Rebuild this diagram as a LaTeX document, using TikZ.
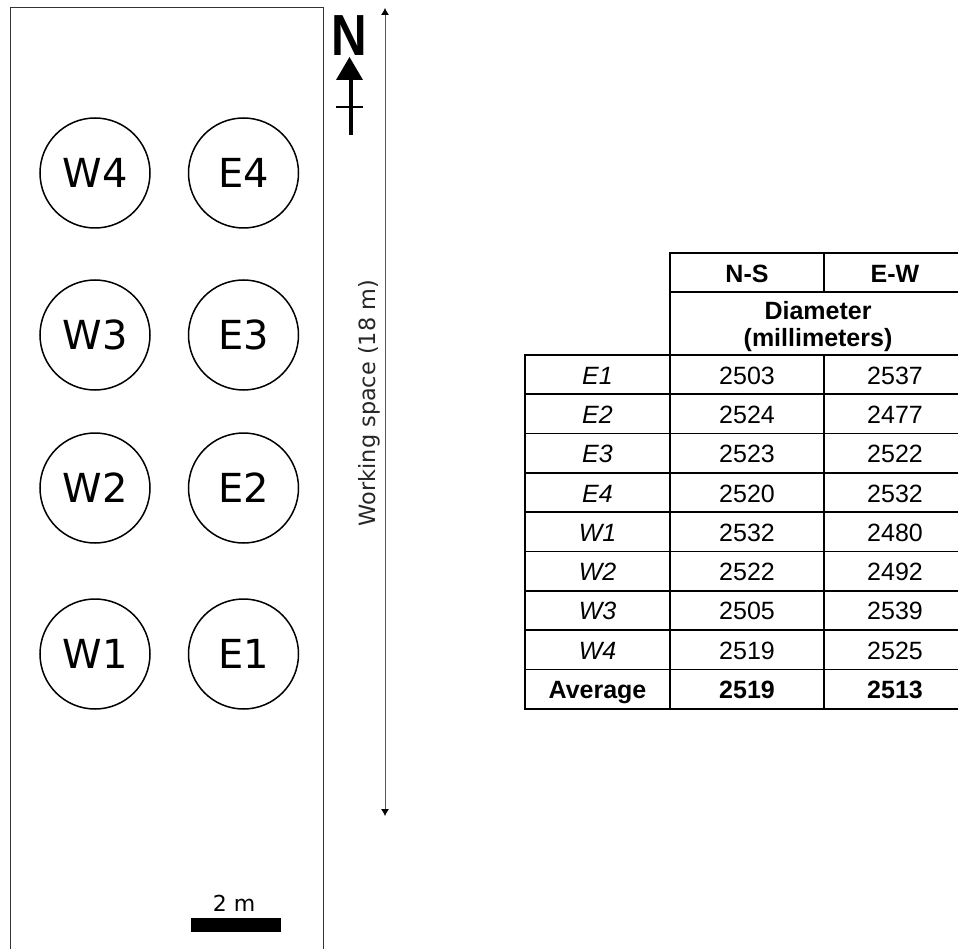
\documentclass[tikz,border=0pt]{standalone}
\usepackage{fontspec}
\setmainfont{DejaVu Sans}
\newfontfamily\tablefont{Liberation Sans}
\usetikzlibrary{arrows.meta,positioning}
\newcommand{\cellstrut}{\rule[-1pt]{0pt}{21pt}}

\begin{document}
\begin{tikzpicture}[x=1pt,y=1pt,>={Latex[length=7pt,width=8pt,black]}]
    \tikzset{tank/.style={draw, circle, line width=1.5pt, minimum size=110pt, inner sep=0pt, font=\fontsize{40}{44}\selectfont},
    cell/.style={draw, rectangle, line width=1.7pt, align=center, inner sep=0pt, outer sep=0pt, minimum height=39.3pt, execute at begin node=\cellstrut, font=\tablefont\fontsize{25}{27.5}\selectfont},
    head/.style={cell, font=\tablefont\bfseries\fontsize{25}{27.5}\selectfont},
    }
    \useasboundingbox (0,0) rectangle (958,-949);
    \draw[line width=1pt, black!80] (10,-949) |- (323,-8) -- (323,-949);

    \node [tank] at (95,-173)  (w4) {W4};
    \node [tank, right=37pt of w4] (e4) {E4};
    \node [tank] at (95,-335)  (w3) {W3};
    \node [tank, right=37pt of w3] (e3) {E3};
    \node [tank] at (95,-488)  (w2) {W2};
    \node [tank, right=37pt of w2] (e2) {E2};
    \node [tank] at (95,-654)  (w1) {W1};
    \node [tank, right=37pt of w1] (e1) {E1};

    % north arrow
    \node [font=\tablefont\bfseries\fontsize{58}{60}\selectfont, inner sep=0pt, xscale=.85, transform shape] at (349,-36) (north) {N};
    \coordinate (tip) at (349.5,-57);
    \coordinate (tail) at (350.5,-135);
    \draw[line width=4pt] (tail) -- ++(0,56);
    \fill (tip) -- (363,-80) -- (336,-80) -- cycle;
    \draw[line width=1.5pt] (336,-107) -- (363,-107);

    % working space
    \coordinate (spacetop) at (385,-8);
    \coordinate (spacebot) at (385,-816);
    \draw[<->, line width=0.8pt, black!65] (spacetop) -- (spacebot);
    \node [rotate=90, font=\fontsize{22.4}{24}\selectfont, black!85] at (369,-403) (space) {Working space (18 m)};

    % scale
    \node [font=\fontsize{22}{24}\selectfont, inner sep=0pt] at (234,-903) (scale) {2 m};
    \node [fill=black, minimum width=90pt, minimum height=14pt, inner sep=0pt, below=6pt of scale, xshift=2pt] (bar) {};

    % table, last column runs past the page edge
    \node [head, anchor=north west, minimum width=154pt] at (670,-253) (ns) {N-S};
    \node [head, anchor=north west, minimum width=142pt] at (824,-253) (ew) {E-W};
    \node [head, anchor=north west, minimum width=296pt, minimum height=63pt] at (670,-292) (diam) {\rule{0pt}{24pt}Diameter\\(millimeters)};
    \foreach \name/\valns/\valew [count=\i] in {\textit{E1}/2503/2537,\textit{E2}/2524/2477,\textit{E3}/2523/2522,\textit{E4}/2520/2532,\textit{W1}/2532/2480,\textit{W2}/2522/2492,\textit{W3}/2505/2539,\textit{W4}/2519/2525}{
        \node [cell, anchor=north west, minimum width=145pt] at (525,-355-39.3*\i+39.3) (name\i) {\name};
        \node [cell, right=0pt of name\i, minimum width=154pt] (ns\i) {\valns};
        \node [cell, right=0pt of ns\i, minimum width=142pt] (ew\i) {\valew};
    }
    \node [head, anchor=north west, minimum width=145pt] at (525,-669.4) (avg) {\smash{Average}};
    \node [head, right=0pt of avg, minimum width=154pt] (avgns) {2519};
    \node [head, right=0pt of avgns, minimum width=142pt] (avgew) {2513};
\end{tikzpicture}
\end{document}
